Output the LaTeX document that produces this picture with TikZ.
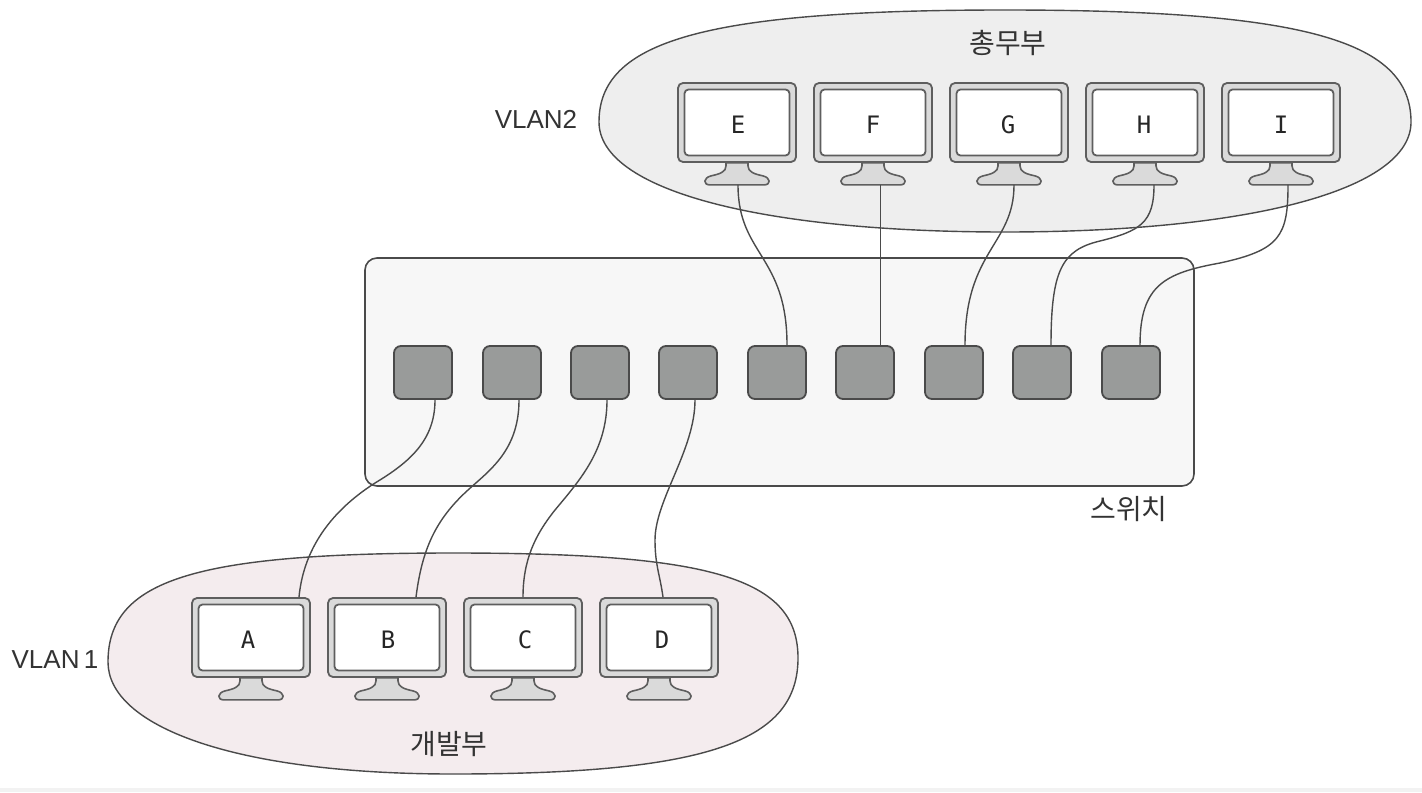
\documentclass[tikz,border=0pt]{standalone}
\usepackage{fontspec}
\setmainfont{Liberation Sans}
\newfontfamily\krfont{Noto Sans CJK KR}
\newfontfamily\monofont{DejaVu Sans Mono}
\usetikzlibrary{calc}
\definecolor{ink}{HTML}{4A4A4A}
\definecolor{frame}{HTML}{5E5E5E}
\definecolor{topfill}{HTML}{EEEEEE}
\definecolor{botfill}{HTML}{F4ECEE}
\definecolor{swfill}{HTML}{F7F7F7}
\definecolor{portfill}{HTML}{999B9A}
\definecolor{standfill}{HTML}{DADADA}
\tikzset{
  group/.style={draw=ink,line width=0.7pt},
  switchbox/.style={draw=ink,line width=0.8pt,fill=swfill,rounded corners=6pt,minimum width=414.5pt,minimum height=114pt,inner sep=0pt},
  port/.style={draw=ink,line width=0.9pt,fill=portfill,rounded corners=3.5pt,minimum width=29pt,minimum height=26.5pt,inner sep=0pt},
  bezel/.style={draw=frame,line width=0.9pt,fill=standfill,rounded corners=2.5pt,minimum width=59pt,minimum height=39.5pt,inner sep=0pt},
  screen/.style={draw=frame,line width=0.9pt,fill=white,rounded corners=2pt,minimum width=52.5pt,minimum height=33pt,inner sep=0pt},
  letter/.style={font=\monofont\fontsize{12}{14}\selectfont,text=black!85,inner sep=0pt},
  wire/.style={draw=ink,line width=0.7pt},
  caption/.style={font=\fontsize{13}{15}\selectfont,text=black!80,inner sep=0pt},
  krcaption/.style={font=\krfont\fontsize{14}{16}\selectfont,text=black!80,inner sep=0pt},
}
% #1 name, #2 x, #3 y of bezel centre, #4 label, #5 label x shift
\newcommand{\monitor}[5]{%
  \node[bezel] (#1b) at (#2,#3) {};
  \node[screen] (#1s) at (#2,#3) {};
  \node[letter] (#1) at ($(#1s.center)+(#5,2.5)$) {#4};
  \draw[draw=frame,line width=0.8pt,fill=standfill,line join=round]
    ($(#1b.south)+(-11,0)$) -- ($(#1b.south)+(-11,3)$)
    .. controls ($(#1b.south)+(-11,9)$) and ($(#1b.south)+(-17,11)$) .. ($(#1b.south)+(-26,13)$)
    .. controls ($(#1b.south)+(-34,15)$) and ($(#1b.south)+(-34,22)$) .. ($(#1b.south)+(-27,22)$)
    -- ($(#1b.south)+(27,22)$)
    .. controls ($(#1b.south)+(34,22)$) and ($(#1b.south)+(34,15)$) .. ($(#1b.south)+(26,13)$)
    .. controls ($(#1b.south)+(17,11)$) and ($(#1b.south)+(11,9)$) .. ($(#1b.south)+(11,3)$)
    -- ($(#1b.south)+(11,0)$) -- cycle;
  \coordinate (#1foot) at ($(#1b.south)+(0,22)$);
}
\begin{document}
\begin{tikzpicture}[x=0.5pt,y=-0.5pt]
\useasboundingbox (0,0) rectangle (1422,792);
\fill[white] (0,0) rectangle (1422,792);
\fill[black!5] (0,788) rectangle (1422,792);
% groups
\draw[group,fill=topfill] (599,122)
  .. controls (599,42) and (701,10) .. (1005,10)
  .. controls (1309,10) and (1411,42) .. (1411,122)
  .. controls (1411,190) and (1250,232) .. (1005,232)
  .. controls (760,232) and (599,190) .. (599,122) -- cycle;
\draw[group,fill=botfill] (108,662)
  .. controls (108,580) and (194,553) .. (453,553)
  .. controls (712,553) and (798,578) .. (798,658)
  .. controls (798,740) and (712,774) .. (453,774)
  .. controls (230,774) and (108,725) .. (108,662) -- cycle;
% monitors
\monitor{E}{737}{122.5}{E}{1}
\monitor{F}{873}{122.5}{F}{0}
\monitor{G}{1009}{122.5}{G}{-1}
\monitor{H}{1145}{122.5}{H}{-1}
\monitor{I}{1281}{122.5}{I}{0}
\monitor{A}{251}{637.5}{A}{-3}
\monitor{B}{387}{637.5}{B}{1}
\monitor{C}{523}{637.5}{C}{2}
\monitor{D}{659}{637.5}{D}{3}
% switch
\node[switchbox] (sw) at (779.5,372) {};
\foreach \n/\x in {p1/423,p2/512,p3/600,p4/688,p5/777,p6/865,p7/954,p8/1042,p9/1131}
  \node[port] (\n) at (\x,372.5) {};
% wires to VLAN2
\draw[wire] ($(Efoot)+(1,0)$) .. controls ($(Efoot)+(1,70)$) and ($(p5.north)+(10,-90)$) .. ($(p5.north)+(10,0)$);
\draw[wire] ($(Ffoot)+(7.6,0)$) .. controls ($(Ffoot)+(7.6,50)$) and ($(p6.north)+(15.6,-60)$) .. ($(p6.north)+(15.6,0)$);
\draw[wire] ($(Gfoot)+(5,0)$) .. controls ($(Gfoot)+(5,60)$) and ($(p7.north)+(11,-95)$) .. ($(p7.north)+(11,0)$);
\draw[wire] ($(Hfoot)+(9,0)$) .. controls ($(Hfoot)+(9,38)$) and (1140,231) .. (1100,241)
  .. controls (1062,250) and (1051,270) .. ($(p8.north)+(9,0)$);
\draw[wire] ($(Ifoot)+(7,0)$) .. controls ($(Ifoot)+(7,51)$) and (1280,250) .. (1220,263)
  .. controls (1165,273) and (1140,285) .. ($(p9.north)+(9,0)$);
% wires to VLAN1
\draw[wire] ($(p1.south)+(12,0)$) .. controls (435,440) and (410,462) .. (375,483)
  .. controls (325,515) and (303,555) .. ($(Ab.north)+(48,0)$);
\draw[wire] ($(p2.south)+(7,0)$) .. controls (519,450) and (490,470) .. (468,490)
  .. controls (435,520) and (422,550) .. ($(Bb.north)+(29,0)$);
\draw[wire] ($(p3.south)+(7,0)$) .. controls (607,450) and (580,480) .. (555,510)
  .. controls (535,535) and (523,560) .. ($(Cb.north)+(0,0)$);
\draw[wire] ($(p4.south)+(7,0)$) .. controls (695,450) and (655,500) .. (655,540)
  .. controls (655,565) and (660,575) .. ($(Db.north)+(4,0)$);
% captions
\node[krcaption] (t1) at (1008,43) {총무부};
\node[krcaption] (t2) at (449,744) {개발부};
\node[krcaption] (t3) at (1129,509) {스위치};
\node[caption] (t4) at (536,119) {VLAN2};
\node[caption] (t5) at (55,660) {VLAN\,1};
\end{tikzpicture}
\end{document}
